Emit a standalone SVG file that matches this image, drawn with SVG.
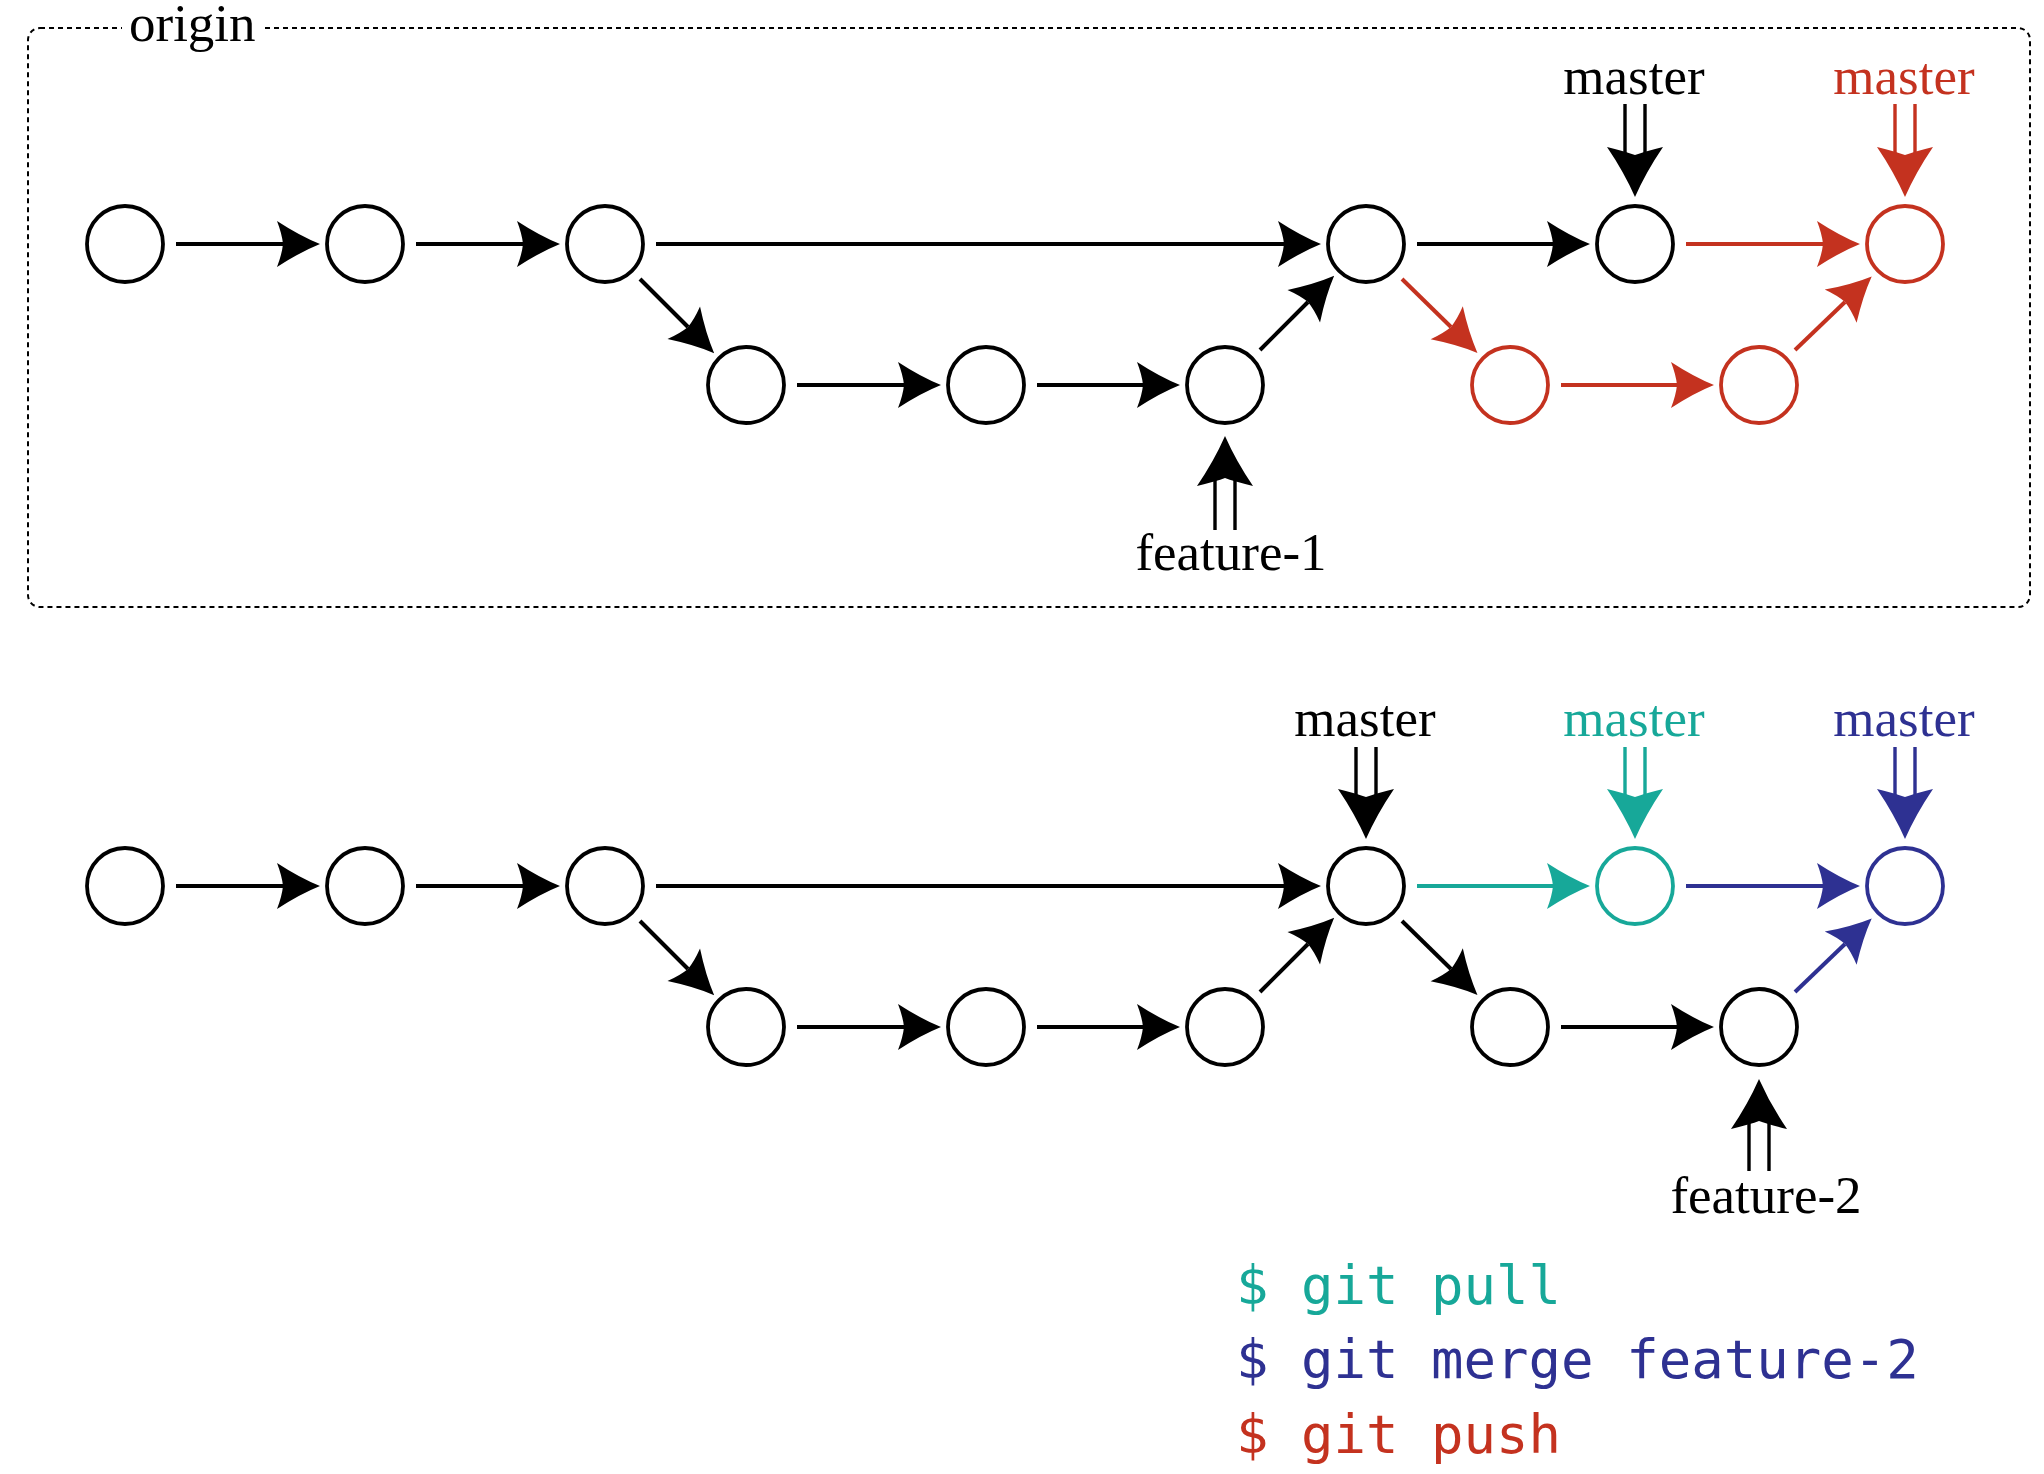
<svg xmlns="http://www.w3.org/2000/svg" xmlns:xlink="http://www.w3.org/1999/xlink" width="2044" height="1474" viewBox="0 0 2044 1474">
<style>
.n{fill:#fff;stroke-width:3.8}
.k{stroke:#000}.r{stroke:#C4321F}.t{stroke:#17A899}.v{stroke:#2E3192}
.e{fill:none;stroke-width:4}
.d{stroke-width:3.4;fill:none}
.lbl{font-family:"Liberation Serif","Times New Roman",serif;font-size:53px;text-anchor:middle}
.cmd{font-family:"DejaVu Sans Mono",monospace;font-size:54px}
</style>
<defs>
<marker id="mk" markerUnits="userSpaceOnUse" orient="auto" overflow="visible" refX="0" refY="0" markerWidth="1" markerHeight="1"><path d="M37,0 Q17,-8 -6,-23 Q-1,-10 0,0 Q-1,10 -6,23 Q17,8 37,0Z" fill="#000"/></marker>
<marker id="mr" markerUnits="userSpaceOnUse" orient="auto" overflow="visible" refX="0" refY="0" markerWidth="1" markerHeight="1"><path d="M37,0 Q17,-8 -6,-23 Q-1,-10 0,0 Q-1,10 -6,23 Q17,8 37,0Z" fill="#C4321F"/></marker>
<marker id="mt" markerUnits="userSpaceOnUse" orient="auto" overflow="visible" refX="0" refY="0" markerWidth="1" markerHeight="1"><path d="M37,0 Q17,-8 -6,-23 Q-1,-10 0,0 Q-1,10 -6,23 Q17,8 37,0Z" fill="#17A899"/></marker>
<marker id="mv" markerUnits="userSpaceOnUse" orient="auto" overflow="visible" refX="0" refY="0" markerWidth="1" markerHeight="1"><path d="M37,0 Q17,-8 -6,-23 Q-1,-10 0,0 Q-1,10 -6,23 Q17,8 37,0Z" fill="#2E3192"/></marker>
<path id="dh" d="M0,0 Q-11,-25 -28,-50 Q-8,-45 0,-42 Q8,-45 28,-50 Q11,-25 0,0Z"/>
</defs>
<rect width="2044" height="1474" fill="#fff"/>

<g id="origin">
<rect x="28" y="28" width="2002" height="579" rx="12" fill="none" stroke="#000" stroke-width="2" stroke-dasharray="5 4"/>
<rect x="122" y="8" width="142" height="44" fill="#fff"/>
<text x="129" y="41" font-family="Liberation Serif,serif" font-size="53">origin</text>
</g>

<g id="connectors">
<path class="e k" marker-end="url(#mk)" d="M176 244H283"/>
<path class="e k" marker-end="url(#mk)" d="M416 244H523"/>
<path class="e k" marker-end="url(#mk)" d="M656 244H1284"/>
<path class="e k" marker-end="url(#mk)" d="M1417 244H1553"/>
<path class="e r" marker-end="url(#mr)" d="M1686 244H1823"/>
<path class="e k" marker-end="url(#mk)" d="M797 385H904"/>
<path class="e k" marker-end="url(#mk)" d="M1037 385H1143"/>
<path class="e r" marker-end="url(#mr)" d="M1561 385H1677"/>
<path class="e k" marker-end="url(#mk)" d="M640 279L688 327"/>
<path class="e k" marker-end="url(#mk)" d="M1260 350L1308 302"/>
<path class="e r" marker-end="url(#mr)" d="M1402 279L1451 327"/>
<path class="e r" marker-end="url(#mr)" d="M1795 350L1845 302"/>

<path class="e k" marker-end="url(#mk)" d="M176 886H283"/>
<path class="e k" marker-end="url(#mk)" d="M416 886H523"/>
<path class="e k" marker-end="url(#mk)" d="M656 886H1284"/>
<path class="e t" marker-end="url(#mt)" d="M1417 886H1553"/>
<path class="e v" marker-end="url(#mv)" d="M1686 886H1823"/>
<path class="e k" marker-end="url(#mk)" d="M797 1027H904"/>
<path class="e k" marker-end="url(#mk)" d="M1037 1027H1143"/>
<path class="e k" marker-end="url(#mk)" d="M1561 1027H1677"/>
<path class="e k" marker-end="url(#mk)" d="M640 921L688 969"/>
<path class="e k" marker-end="url(#mk)" d="M1260 992L1308 944"/>
<path class="e k" marker-end="url(#mk)" d="M1402 921L1451 969"/>
<path class="e v" marker-end="url(#mv)" d="M1795 992L1845 944"/>
</g>

<g id="top-c1"><circle class="n k" cx="125" cy="244" r="38"/></g>
<g id="top-c2"><circle class="n k" cx="365" cy="244" r="38"/></g>
<g id="top-c3"><circle class="n k" cx="605" cy="244" r="38"/></g>
<g id="top-c4"><circle class="n k" cx="746" cy="385" r="38"/></g>
<g id="top-c5"><circle class="n k" cx="986" cy="385" r="38"/></g>
<g id="top-c6"><circle class="n k" cx="1225" cy="385" r="38"/></g>
<g id="top-c7"><circle class="n k" cx="1366" cy="244" r="38"/></g>
<g id="top-c8"><circle class="n k" cx="1635" cy="244" r="38"/></g>
<g id="top-c9"><circle class="n r" cx="1510" cy="385" r="38"/></g>
<g id="top-c10"><circle class="n r" cx="1759" cy="385" r="38"/></g>
<g id="top-c11"><circle class="n r" cx="1905" cy="244" r="38"/></g>

<g id="bot-c1"><circle class="n k" cx="125" cy="886" r="38"/></g>
<g id="bot-c2"><circle class="n k" cx="365" cy="886" r="38"/></g>
<g id="bot-c3"><circle class="n k" cx="605" cy="886" r="38"/></g>
<g id="bot-c4"><circle class="n k" cx="746" cy="1027" r="38"/></g>
<g id="bot-c5"><circle class="n k" cx="986" cy="1027" r="38"/></g>
<g id="bot-c6"><circle class="n k" cx="1225" cy="1027" r="38"/></g>
<g id="bot-c7"><circle class="n k" cx="1366" cy="886" r="38"/></g>
<g id="bot-c8"><circle class="n t" cx="1635" cy="886" r="38"/></g>
<g id="bot-c9"><circle class="n k" cx="1510" cy="1027" r="38"/></g>
<g id="bot-c10"><circle class="n k" cx="1759" cy="1027" r="38"/></g>
<g id="bot-c11"><circle class="n v" cx="1905" cy="886" r="38"/></g>

<g id="top-master">
<text class="lbl" x="1634" y="94">master</text>
<path class="d k" d="M1625 104V156M1645 104V156"/>
<use xlink:href="#dh" href="#dh" transform="translate(1635 197)" fill="#000"/>
</g>
<g id="top-master-red">
<text class="lbl" x="1904" y="94" fill="#C4321F">master</text>
<path class="d r" d="M1895 104V156M1915 104V156"/>
<use xlink:href="#dh" href="#dh" transform="translate(1905 197)" fill="#C4321F"/>
</g>
<g id="feature-1">
<text class="lbl" x="1231" y="570">feature-1</text>
<path class="d k" d="M1215 478V530M1235 478V530"/>
<use xlink:href="#dh" href="#dh" transform="translate(1225 436) rotate(180)" fill="#000"/>
</g>

<g id="bot-master">
<text class="lbl" x="1365" y="736">master</text>
<path class="d k" d="M1356 747V798M1376 747V798"/>
<use xlink:href="#dh" href="#dh" transform="translate(1366 839)" fill="#000"/>
</g>
<g id="bot-master-teal">
<text class="lbl" x="1634" y="736" fill="#17A899">master</text>
<path class="d t" d="M1625 747V798M1645 747V798"/>
<use xlink:href="#dh" href="#dh" transform="translate(1635 839)" fill="#17A899"/>
</g>
<g id="bot-master-navy">
<text class="lbl" x="1904" y="736" fill="#2E3192">master</text>
<path class="d v" d="M1895 747V798M1915 747V798"/>
<use xlink:href="#dh" href="#dh" transform="translate(1905 839)" fill="#2E3192"/>
</g>
<g id="feature-2">
<text class="lbl" x="1766" y="1213">feature-2</text>
<path class="d k" d="M1749 1120V1171M1769 1120V1171"/>
<use xlink:href="#dh" href="#dh" transform="translate(1759 1079) rotate(180)" fill="#000"/>
</g>

<g id="commands">
<text class="cmd" x="1236" y="1304" fill="#17A899" xml:space="preserve">$ git pull</text>
<text class="cmd" x="1236" y="1378" fill="#2E3192" xml:space="preserve">$ git merge feature-2</text>
<text class="cmd" x="1236" y="1453" fill="#C4321F" xml:space="preserve">$ git push</text>
</g>
</svg>
